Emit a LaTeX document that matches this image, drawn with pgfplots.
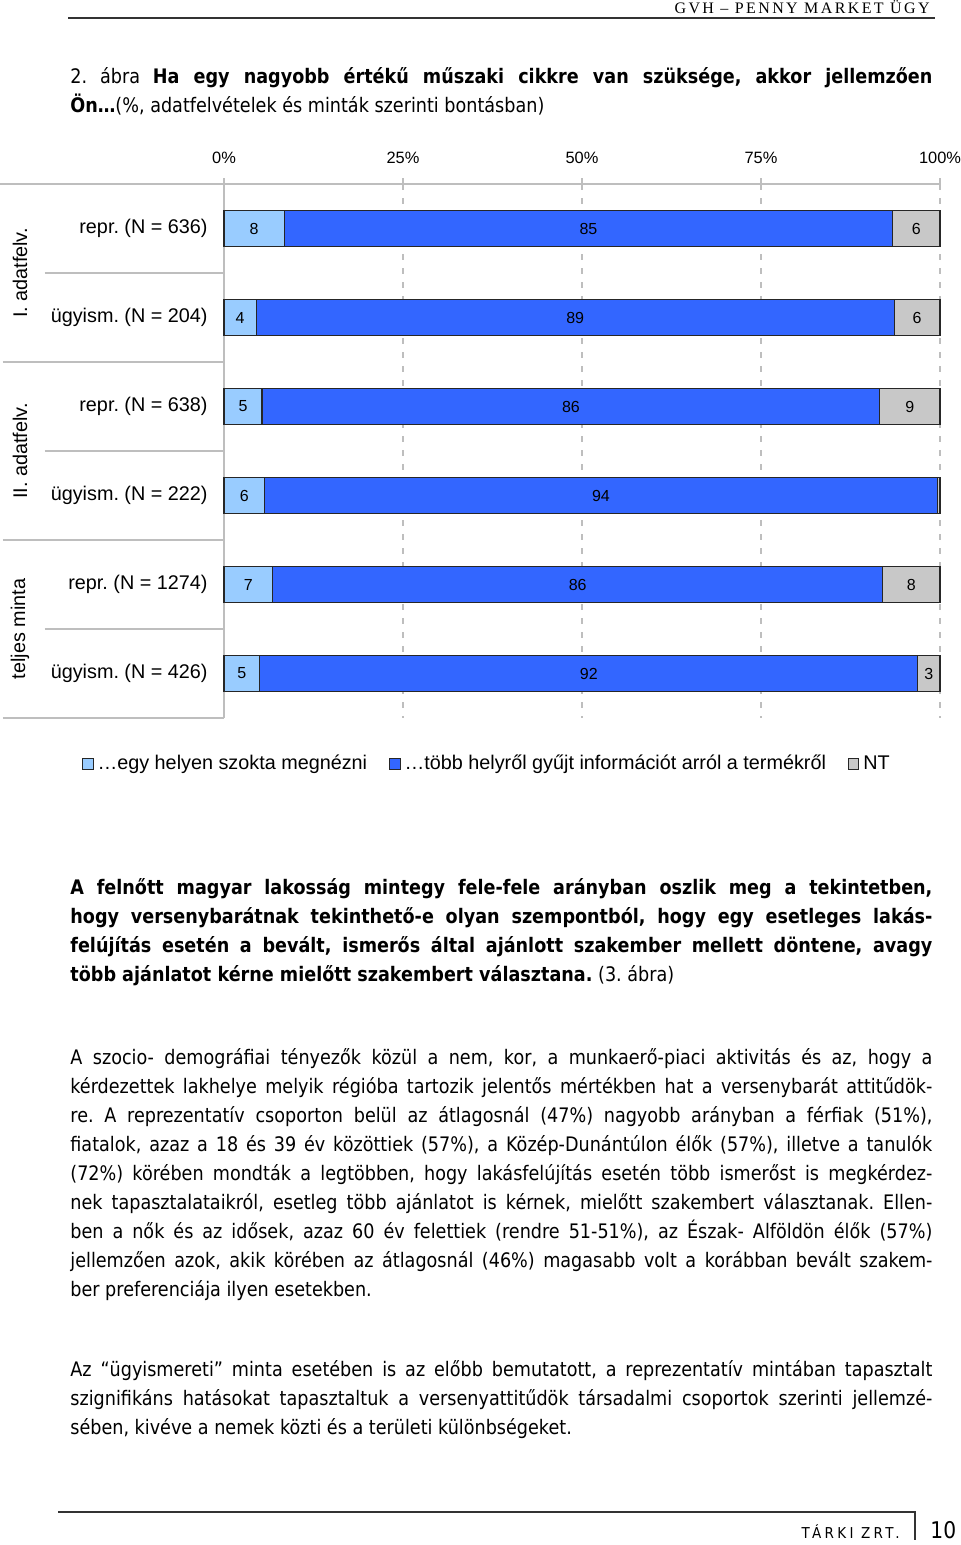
\documentclass[border=0pt]{standalone}
\usepackage{fontspec}
\usepackage{pgfplots}
\usepackage{pgfplotstable}
\pgfplotsset{compat=1.18}
\setmainfont{Liberation Sans}
\newfontfamily\pagefont[FakeStretch=0.88]{DejaVu Sans}
\newfontfamily\headfont[LetterSpace=15]{Liberation Serif}
\newfontfamily\footfont[FakeStretch=0.9,LetterSpace=22]{DejaVu Sans}

\definecolor{cLight}{HTML}{99CCFF}
\definecolor{cBlue}{HTML}{3366FF}
\definecolor{cGray}{HTML}{C8C8C8}
\definecolor{cLine}{HTML}{BEBEBE}

% shares (%), one row per sample; la/lb/lc = printed labels
\pgfplotstableread{
row a   b    c   la lb lc
0   8.4 85.0 6.6 8  85 6
1   4.5 89.1 6.4 4  89 6
2   5.3 86.3 8.4 5  86 9
3   5.7 93.9 0.4 6  94 {}
4   6.8 85.2 8.0 7  86 8
5   5.0 91.9 3.1 5  92 3
}\sharetable

\newcommand{\labfont}{\fontsize{9.9}{12}\selectfont\frenchspacing}
\newcommand{\jl}[2]{\node[anchor=base west,inner sep=0pt] at (35pt,-#1pt)
  {\pagefont\fontsize{10}{12}\selectfont\frenchspacing\makebox[431pt][s]{#2}};}
\newcommand{\lastl}[2]{\node[anchor=base west,inner sep=0pt] at (35pt,-#1pt)
  {\pagefont\fontsize{10}{12}\selectfont\frenchspacing #2};}

\begin{document}
\frenchspacing
\begin{tikzpicture}
\fill[white] (0,0) rectangle (480pt,-772.5pt);
\useasboundingbox (0,0) rectangle (480pt,-772.5pt);

% header
\node[anchor=base east,inner sep=0pt] at (465pt,-6.8pt)
  {\headfont\fontsize{8}{9}\selectfont GVH – PENNY MARKET ÜGY};
\draw[line width=0.7pt,black!80] (34pt,-9pt) -- (467.5pt,-9pt);

% title
\jl{42}{2. ábra \textbf{Ha egy nagyobb értékű műszaki cikkre van szüksége, akkor jellemzően}}
\lastl{56.5}{\textbf{Ön…}(\%, adatfelvételek és minták szerinti bontásban)}

\begin{axis}[
  at={(112pt,-92pt)}, anchor=north west,
  scale only axis, width=358pt, height=267pt,
  xbar stacked, bar width=18pt,
  xmin=0, xmax=100, ymin=-0.5, ymax=5.5, y dir=reverse,
  clip=false,
  axis line style={draw=none},
  xtick={0,25,50,75,100},
  xticklabels={0\%,25\%,50\%,75\%,100\%},
  xtick pos=right, xticklabel pos=right,
  tick align=outside, major tick length=3pt,
  xtick style={draw=cLine,line width=0.6pt},
  xticklabel style={font=\fontsize{8.2}{10}\selectfont,anchor=base,inner sep=0pt,yshift=7.5pt},
  ytick={0,...,5},
  yticklabels={{repr. (N = 636)},{ügyism. (N = 204)},{repr. (N = 638)},
               {ügyism. (N = 222)},{repr. (N = 1274)},{ügyism. (N = 426)}},
  ytick style={draw=none},
  yticklabel style={font=\labfont,anchor=east,inner sep=0pt,xshift=-5pt},
  xmajorgrids,
  major grid style={cLine,line width=0.6pt,dash pattern=on 3pt off 4pt},
  every axis plot post/.append style={
    legend image code/.code={\draw[##1,line width=0.5pt] (0pt,-2.6pt) rectangle (5.2pt,2.6pt);}},
  legend style={at={(0.3687,-0.0861)},anchor=center,draw=none,fill=none,
    font=\labfont,legend columns=-1,
    /tikz/every even column/.append style={column sep=9pt}},
]
\addplot[fill=cLight,draw=black!85,line width=0.6pt] table[x=a,y=row] {\sharetable};
\addplot[fill=cBlue,draw=black!85,line width=0.6pt] table[x=b,y=row] {\sharetable};
\addplot[fill=cGray,draw=black!85,line width=0.6pt] table[x=c,y=row] {\sharetable};
\legend{…egy helyen szokta megnézni,…több helyről gyűjt információt arról a termékről,NT}

% table frame on the left
\draw[cLine,line width=0.6pt] (axis cs:-31.3,-0.5) -- (axis cs:100,-0.5);
\draw[cLine,line width=0.6pt] (axis cs:0,-0.5) -- (axis cs:0,5.5);
\draw[cLine,line width=0.6pt] (axis cs:-25,0.5) -- (axis cs:0,0.5);
\draw[cLine,line width=0.6pt] (axis cs:-25,2.5) -- (axis cs:0,2.5);
\draw[cLine,line width=0.6pt] (axis cs:-25,4.5) -- (axis cs:0,4.5);
\draw[cLine,line width=0.6pt] (axis cs:-30.9,1.5) -- (axis cs:0,1.5);
\draw[cLine,line width=0.6pt] (axis cs:-30.9,3.5) -- (axis cs:0,3.5);
\draw[cLine,line width=0.6pt] (axis cs:-30.9,5.5) -- (axis cs:0,5.5);
\node[rotate=90,font=\labfont] at (axis cs:-28.5,0.5) {I. adatfelv.};
\node[rotate=90,font=\labfont] at (axis cs:-28.5,2.5) {II. adatfelv.};
\node[rotate=90,font=\labfont] at (axis cs:-28.5,4.5) {teljes minta};
\end{axis}

% value labels, centred in each segment
\begin{axis}[
  at={(112pt,-92pt)}, anchor=north west,
  scale only axis, width=358pt, height=267pt,
  xmin=0, xmax=100, ymin=-0.5, ymax=5.5, y dir=reverse,
  hide axis, clip=false,
  point meta=explicit symbolic, nodes near coords,
  every node near coord/.append style={anchor=center,inner sep=0pt,text=black,
    font=\fontsize{8}{9}\selectfont},
]
\addplot[draw=none,mark=none] table[x expr=\thisrow{a}/2,y=row,meta=la] {\sharetable};
\addplot[draw=none,mark=none] table[x expr=\thisrow{a}+\thisrow{b}/2,y=row,meta=lb] {\sharetable};
\addplot[draw=none,mark=none] table[x expr=\thisrow{a}+\thisrow{b}+\thisrow{c}/2,y=row,meta=lc] {\sharetable};
\end{axis}

% text below the chart
\jl{447}{\textbf{A felnőtt magyar lakosság mintegy fele-fele arányban oszlik meg a tekintetben,}}
\jl{461.5}{\textbf{hogy versenybarátnak tekinthető-e olyan szempontból, hogy egy esetleges lakás-}}
\jl{476}{\textbf{felújítás esetén a bevált, ismerős által ajánlott szakember mellett döntene, avagy}}
\lastl{490.5}{\textbf{több ajánlatot kérne mielőtt szakembert választana.} (3. ábra)}

\jl{532}{A szocio- demográfiai tényezők közül a nem, kor, a munkaerő-piaci aktivitás és az, hogy a}
\jl{546.5}{kérdezettek lakhelye melyik régióba tartozik jelentős mértékben hat a versenybarát attitűdök-}
\jl{561}{re. A reprezentatív csoporton belül az átlagosnál (47\%) nagyobb arányban a férfiak (51\%),}
\jl{575.5}{fiatalok, azaz a 18 és 39 év közöttiek (57\%), a Közép-Dunántúlon élők (57\%), illetve a tanulók}
\jl{590}{(72\%) körében mondták a legtöbben, hogy lakásfelújítás esetén több ismerőst is megkérdez-}
\jl{604.5}{nek tapasztalataikról, esetleg több ajánlatot is kérnek, mielőtt szakembert választanak. Ellen-}
\jl{619}{ben a nők és az idősek, azaz 60 év felettiek (rendre 51-51\%), az Észak- Alföldön élők (57\%)}
\jl{633.5}{jellemzően azok, akik körében az átlagosnál (46\%) magasabb volt a korábban bevált szakem-}
\lastl{648}{ber preferenciája ilyen esetekben.}

\jl{688}{Az “ügyismereti” minta esetében is az előbb bemutatott, a reprezentatív mintában tapasztalt}
\jl{702.5}{szignifikáns hatásokat tapasztaltuk a versenyattitűdök társadalmi csoportok szerinti jellemzé-}
\lastl{717}{sében, kivéve a nemek közti és a területi különbségeket.}

% footer
\draw[line width=0.7pt,black!80] (29pt,-756pt) -- (457.5pt,-756pt) -- (457.5pt,-770pt);
\node[anchor=base east,inner sep=0pt] at (450pt,-769pt)
  {\footfont\fontsize{7.5}{9}\selectfont TÁRKI ZRT.};
\node[anchor=base west,inner sep=0pt] at (465pt,-769pt)
  {\pagefont\fontsize{11.5}{13}\selectfont 10};
\end{tikzpicture}
\end{document}
